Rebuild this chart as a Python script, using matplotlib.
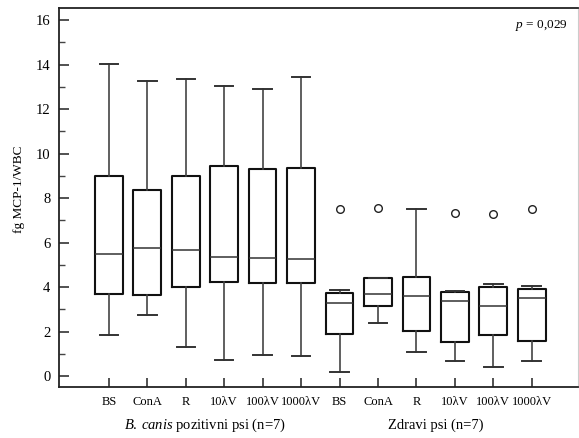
import matplotlib.pyplot as plt
from matplotlib.ticker import MultipleLocator

plt.rcParams['font.family'] = ['Liberation Serif', 'DejaVu Serif']
plt.rcParams['mathtext.fontset'] = 'custom'
plt.rcParams['mathtext.rm'] = 'Liberation Serif'
plt.rcParams['mathtext.it'] = 'Liberation Serif:italic'

# box statistics (fg MCP-1/WBC)
labels = ['BS', 'ConA', 'R', '10λV', '100λV', '1000λV',
          'BS', 'ConA', 'R', '10λV', '100λV', '1000λV']
whislo = [1.85, 2.75, 1.30, 0.70, 0.95, 0.92,
          0.19, 2.38, 1.08, 0.69, 0.40, 0.69]
q1 = [3.70, 3.65, 4.00, 4.22, 4.20, 4.20,
      1.90, 3.13, 2.02, 1.54, 1.84, 1.57]
med = [5.50, 5.77, 5.65, 5.35, 5.32, 5.25,
       3.30, 3.70, 3.60, 3.39, 3.13, 3.52]
q3 = [9.00, 8.37, 9.00, 9.42, 9.32, 9.35,
      3.75, 4.43, 4.46, 3.78, 4.00, 3.93]
whishi = [14.04, 13.24, 13.33, 13.05, 12.88, 13.42,
          3.87, 4.43, 7.50, 3.82, 4.13, 4.06]
fliers = [[], [], [], [], [], [],
          [7.50], [7.55], [], [7.35], [7.30], [7.50]]
groups = ['$\\it{B.}\\:\\it{canis}$ pozitivni psi (n=7)', 'Zdravi psi (n=7)']
p_text = '$\\it{p}$ = 0,029'

stats = []
for i in range(len(labels)):
    stats.append({'whislo': whislo[i], 'q1': q1[i], 'med': med[i],
                  'q3': q3[i], 'whishi': whishi[i], 'fliers': fliers[i]})

fig = plt.figure(figsize=(5.79, 4.38), dpi=100)
ax = fig.add_axes([0.1024, 0.117, 0.8956, 0.8636])

positions = list(range(1, len(labels) + 1))
ax.bxp(stats, positions=positions, widths=0.72, capwidths=0.48,
       boxprops=dict(color='#111111', linewidth=1.5),
       medianprops=dict(color='#333333', linewidth=1.1),
       whiskerprops=dict(color='#444444', linewidth=1.2),
       capprops=dict(color='#333333', linewidth=1.4),
       flierprops=dict(marker='o', markersize=5.5, markerfacecolor='none',
                       markeredgecolor='#222222', markeredgewidth=1.0))

ax.set_xlim(-0.29, 13.2)
ax.set_ylim(-0.48, 16.52)
ax.set_xticks(positions)
ax.set_xticklabels(labels, fontsize=9)
ax.yaxis.set_major_locator(MultipleLocator(2))
ax.yaxis.set_minor_locator(MultipleLocator(1))
ax.tick_params(axis='y', which='major', direction='in', length=7.5,
               width=1.1, labelsize=10.5, pad=6.5, color='#222222')
ax.tick_params(axis='y', which='minor', direction='in', length=4.5,
               width=1.0, color='#444444')
ax.tick_params(axis='x', which='major', direction='in', length=6.5,
               width=1.1, pad=7, color='#222222')

for side in ['left', 'bottom', 'top']:
    ax.spines[side].set_linewidth(1.3)
    ax.spines[side].set_color('#222222')
ax.spines['right'].set_color('#cccccc')
ax.spines['right'].set_linewidth(0.8)

ax.set_ylabel('fg MCP-1/WBC', fontsize=9.5)
ax.yaxis.set_label_coords(-0.066, 0.523)

ax.text(3.5, -0.103, groups[0], transform=ax.get_xaxis_transform(),
        ha='center', va='center', fontsize=10.5)
ax.text(9.5, -0.103, groups[1], transform=ax.get_xaxis_transform(),
        ha='center', va='center', fontsize=10.5)
ax.text(0.981, 0.956, p_text, transform=ax.transAxes,
        ha='right', va='center', fontsize=9.5)

fig.savefig('out.png', dpi=100)
